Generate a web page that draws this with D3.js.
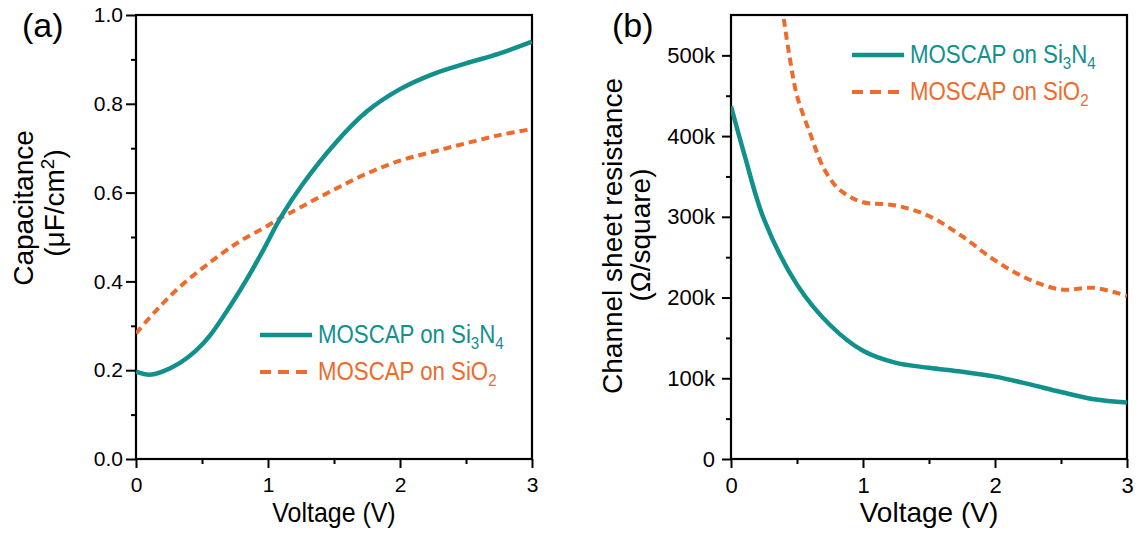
<!DOCTYPE html>
<html>
<head>
<meta charset="utf-8">
<script src="https://cdn.jsdelivr.net/npm/d3@7"></script>
<style>
  body { margin: 0; background: #fff; }
  svg { font-family: "Liberation Sans", Arial, sans-serif; }
</style>
</head>
<body>
<div id="chart"></div>
<script>
// panel (a) capacitance vs voltage
const capVoltN = [0, 0.1, 0.2, 0.33, 0.45, 0.56, 0.71, 0.84, 0.965, 1.1, 1.265, 1.5, 1.75, 2.0, 2.25, 2.5, 2.75, 3.0];
const capSiN   = [0.197, 0.19, 0.197, 0.216, 0.243, 0.278, 0.343, 0.405, 0.471, 0.546, 0.62, 0.708, 0.783, 0.833, 0.867, 0.891, 0.913, 0.94];
const capVoltO = [0, 0.157, 0.333, 0.535, 0.763, 0.965, 1.116, 1.24, 1.495, 1.75, 2.0, 2.25, 2.5, 2.76, 3.0];
const capSiO   = [0.283, 0.336, 0.388, 0.437, 0.486, 0.520, 0.546, 0.566, 0.606, 0.643, 0.672, 0.692, 0.711, 0.73, 0.743];

// panel (b) sheet resistance vs voltage (k ohm/square)
const resVoltN = [0, 0.1, 0.25, 0.5, 0.75, 1.0, 1.25, 1.5, 1.75, 2.0, 2.25, 2.5, 2.75, 3.0];
const resSiN   = [437, 378, 297, 216, 166, 134, 119, 113, 108, 102, 93, 83, 74, 70];
const resVoltO = [0.40, 0.45, 0.5, 0.6, 0.7, 0.8, 0.9, 1.0, 1.25, 1.5, 1.75, 2.0, 2.25, 2.5, 2.75, 3.0];
const resSiO   = [545, 492, 450, 403, 361, 337, 325, 318, 314, 301, 276, 246, 223, 210, 212, 202];

const capTicks = [0, 0.2, 0.4, 0.6, 0.8, 1.0];
const resTicks = [0, 100, 200, 300, 400, 500];
const voltTicks = [0, 1, 2, 3];

const teal = "#12908c", orange = "#ee6b2b";

const svg = d3.select("#chart").append("svg")
    .attr("width", 1140).attr("height", 537);

function drawPanel(opt){
    var x = d3.scaleLinear().domain([0, 3]).range([opt.left, opt.right]);
    var y = d3.scaleLinear().domain(opt.yDomain).range([459, 15]);
    var g = svg.append("g");

    // minor ticks
    g.append("g")
        .attr("transform", "translate(0,459)")
        .call(d3.axisBottom(x).tickValues([0.5, 1.5, 2.5]).tickSize(5).tickFormat(""))
        .call(a => a.select(".domain").remove())
        .selectAll("line").attr("stroke-width", 2);
    g.append("g")
        .attr("transform", "translate(" + opt.left + ",0)")
        .call(d3.axisLeft(y).tickValues(opt.minor).tickSize(5).tickFormat(""))
        .call(a => a.select(".domain").remove())
        .selectAll("line").attr("stroke-width", 2);

    // major ticks
    var xa = g.append("g")
        .attr("transform", "translate(0,459)")
        .call(d3.axisBottom(x).tickValues(voltTicks).tickSize(9).tickPadding(9).tickFormat(d3.format("d")));
    xa.select(".domain").remove();
    xa.selectAll("line").attr("stroke-width", 2);
    xa.selectAll("text").attr("font-size", opt.tickFont).attr("fill", "#000");

    var ya = g.append("g")
        .attr("transform", "translate(" + opt.left + ",0)")
        .call(d3.axisLeft(y).tickValues(opt.ticks).tickSize(opt.ytick).tickPadding(opt.ypad).tickFormat(opt.fmt));
    ya.select(".domain").remove();
    ya.selectAll("line").attr("stroke-width", 2);
    ya.selectAll("text").attr("font-size", opt.tickFont).attr("fill", "#000");

    // frame
    g.append("rect")
        .attr("x", opt.left).attr("y", 15)
        .attr("width", opt.right - opt.left).attr("height", 444)
        .attr("fill", "none").attr("stroke", "#000").attr("stroke-width", 2.2);

    // curves
    g.append("defs").append("clipPath").attr("id", "clip" + opt.id)
        .append("rect").attr("x", opt.left).attr("y", 15)
        .attr("width", opt.right - opt.left).attr("height", 444);
    var line = d3.line().x(d => x(d[0])).y(d => y(d[1])).curve(d3.curveCatmullRom.alpha(0.5));
    g.append("path")
        .datum(d3.zip(opt.vo, opt.so))
        .attr("clip-path", "url(#clip" + opt.id + ")")
        .attr("d", line).attr("fill", "none")
        .attr("stroke", orange).attr("stroke-width", 4)
        .attr("stroke-dasharray", "8,5");
    g.append("path")
        .datum(d3.zip(opt.vn, opt.sn))
        .attr("clip-path", "url(#clip" + opt.id + ")")
        .attr("d", line).attr("fill", "none")
        .attr("stroke", teal).attr("stroke-width", 4.5);

    // axis titles
    g.append("text")
        .attr("transform", "translate(" + (opt.left + opt.right) / 2 + ",522) scale(" + opt.xsc + ",1)")
        .attr("text-anchor", "middle").attr("font-size", 28)
        .text("Voltage (V)");
    g.append("text")
        .attr("transform", "translate(" + opt.t1x + "," + opt.t1y + ") rotate(-90)")
        .attr("text-anchor", "middle").attr("font-size", 28)
        .text(opt.title1);
    var t2 = g.append("text")
        .attr("transform", "translate(" + opt.t2x + "," + opt.t2y + ") rotate(-90)")
        .attr("text-anchor", "middle").attr("font-size", 28);
    opt.title2(t2);

    // panel label
    g.append("text").attr("x", opt.labelX).attr("y", 37)
        .attr("font-size", 34).text(opt.label);

    // legend
    var lg = g.append("g").attr("transform", "translate(" + opt.legX + "," + opt.legY + ")");
    lg.append("line").attr("x1", 0).attr("x2", 52).attr("y1", 0).attr("y2", 0)
        .attr("stroke", teal).attr("stroke-width", 4.5);
    lg.append("line").attr("x1", 0).attr("x2", 48).attr("y1", 37).attr("y2", 37)
        .attr("stroke", orange).attr("stroke-width", 4).attr("stroke-dasharray", "11,7");
    var l1 = lg.append("text").attr("transform", "translate(58,8) scale(0.89,1)")
        .attr("font-size", 25).attr("fill", teal);
    l1.append("tspan").text("MOSCAP on Si");
    l1.append("tspan").attr("font-size", 17).attr("dy", 6).text("3");
    l1.append("tspan").attr("dy", -6).text("N");
    l1.append("tspan").attr("font-size", 17).attr("dy", 6).text("4");
    var l2 = lg.append("text").attr("transform", "translate(58,45) scale(0.89,1)")
        .attr("font-size", 25).attr("fill", orange);
    l2.append("tspan").text("MOSCAP on SiO");
    l2.append("tspan").attr("font-size", 17).attr("dy", 6).text("2");
}

drawPanel({
    id: "a", left: 136, right: 532, yDomain: [0, 1.0],
    ticks: capTicks, minor: [0.1, 0.3, 0.5, 0.7, 0.9], fmt: d3.format(".1f"),
    tickFont: 21, ytick: 10, ypad: 3, xsc: 0.89,
    vn: capVoltN, sn: capSiN, vo: capVoltO, so: capSiO,
    t1x: 33, t1y: 208, t2x: 64, t2y: 203, title1: "Capacitance",
    title2: t => {
        t.append("tspan").text("(\u03bcF/cm");
        t.append("tspan").attr("font-size", 19).attr("dy", -10).text("2");
        t.append("tspan").attr("dy", 10).text(")");
    },
    label: "(a)", labelX: 22, legX: 260, legY: 335
});

drawPanel({
    id: "b", left: 731, right: 1127, yDomain: [0, 550],
    ticks: resTicks, minor: [50, 150, 250, 350, 450], fmt: d => d === 0 ? "0" : d + "k",
    tickFont: 22, ytick: 9, ypad: 7, xsc: 1,
    vn: resVoltN, sn: resSiN, vo: resVoltO, so: resSiO,
    t1x: 622, t1y: 236, t2x: 650, t2y: 235, title1: "Channel sheet resistance",
    title2: t => { t.text("(\u03a9/square)"); },
    label: "(b)", labelX: 612, legX: 852, legY: 55
});
</script>
</body>
</html>
